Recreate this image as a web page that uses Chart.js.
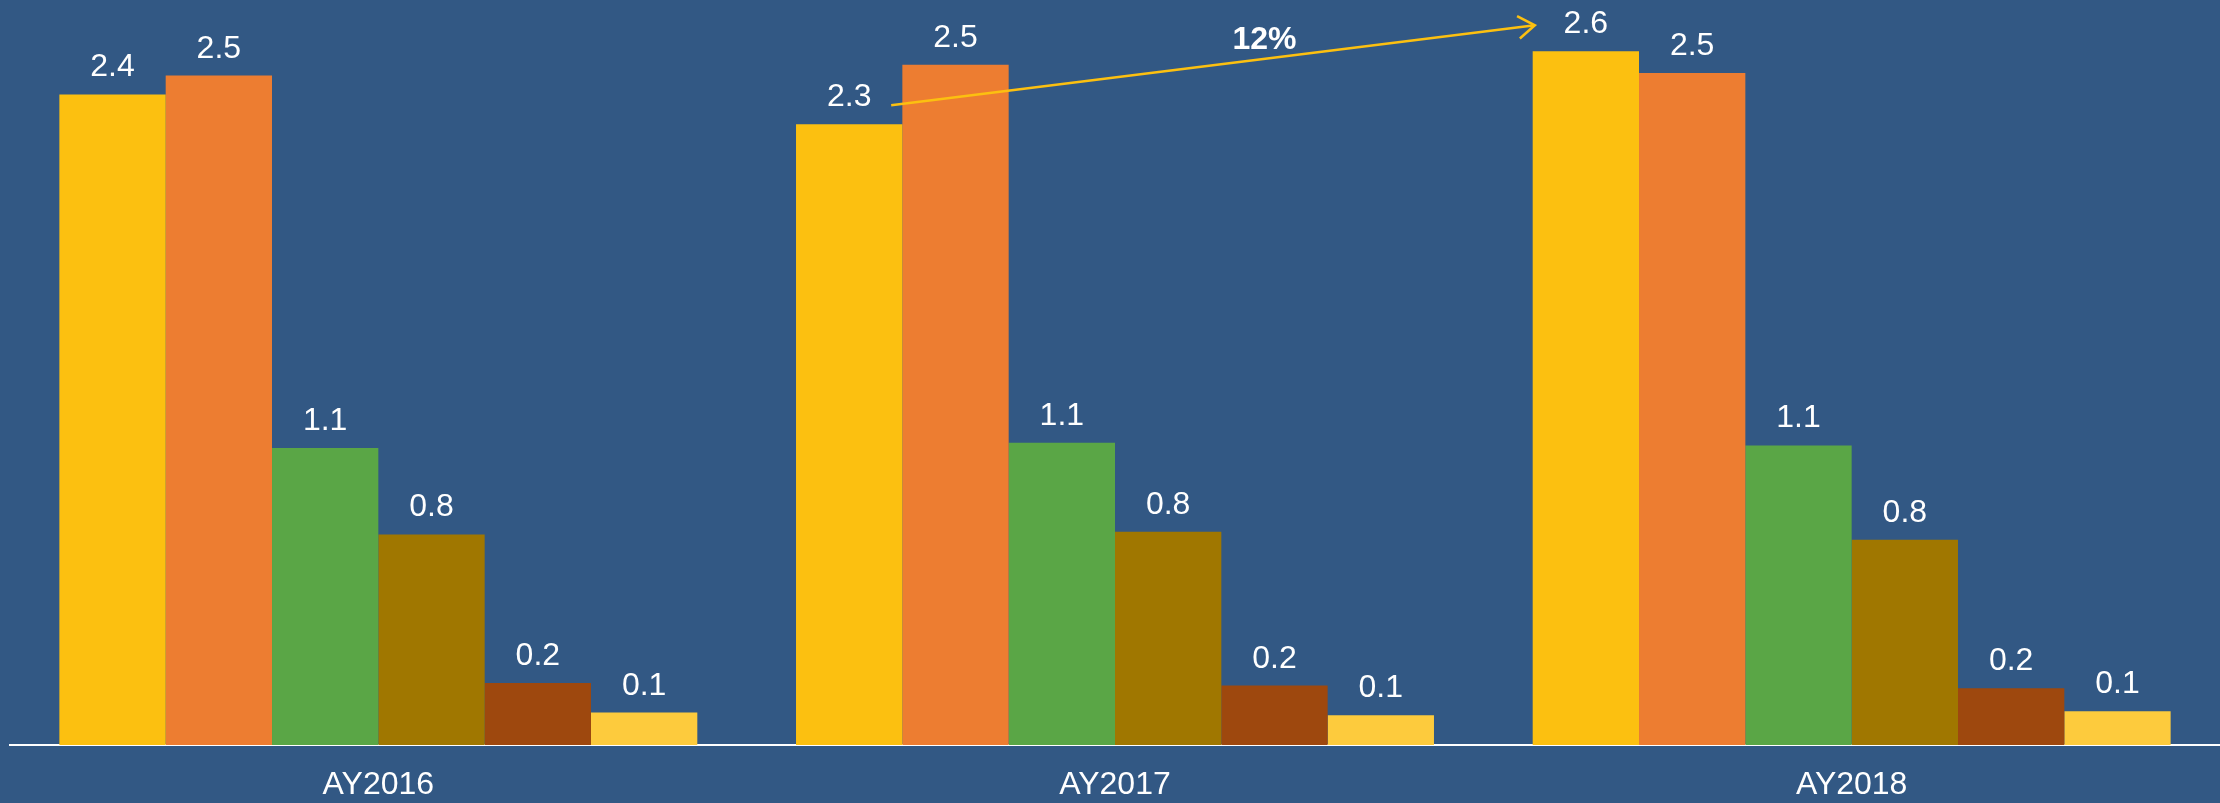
<!DOCTYPE html>
<html>
<head>
<meta charset="utf-8">
<script src="https://cdn.jsdelivr.net/npm/chart.js@4.4.0/dist/chart.umd.min.js"></script>
<style>
  html, body { margin: 0; padding: 0; background: #325884; }
  #wrap { width: 2220px; height: 803px; position: relative; }
</style>
</head>
<body>
<div id="wrap"><canvas id="chartAY"></canvas></div>
<script>
var years = ['AY2016', 'AY2017', 'AY2018'];

// six series, values
var serie1 = [2.41, 2.30, 2.57];
var serie2 = [2.48, 2.52, 2.49];
var serie3 = [1.10, 1.12, 1.11];
var serie4 = [0.78, 0.79, 0.76];
var serie5 = [0.23, 0.22, 0.21];
var serie6 = [0.12, 0.11, 0.125];

var colors = ['#FCC010', '#ED7D31', '#5AA646', '#A07700', '#9E480E', '#FDCB3D'];
var growthText = '12%';

var fontFam = '"Liberation Sans", Arial, sans-serif';

// value labels above each bar
var valueLabels = {
    id: 'valueLabels',
    afterDatasetsDraw: function (chart) {
        var c = chart.ctx;
        c.save();
        c.fillStyle = '#ffffff';
        c.font = '32px ' + fontFam;
        c.textAlign = 'center';
        c.textBaseline = 'alphabetic';
        chart.data.datasets.forEach(function (ds, i) {
            chart.getDatasetMeta(i).data.forEach(function (bar, j) {
                c.fillText(ds.data[j].toFixed(1), bar.x, bar.y - 18);
            });
        });
        c.restore();
    }
};

// growth arrow between AY2017 and AY2018 first series
var growthArrow = {
    id: 'growthArrow',
    afterDatasetsDraw: function (chart) {
        var meta = chart.getDatasetMeta(0).data;
        var a = meta[1], b = meta[2];
        var x1 = a.x + 42, y1 = a.y - 19;
        var x2 = b.x - 51, y2 = b.y - 26;
        var c = chart.ctx;
        c.save();
        c.strokeStyle = '#FCC010';
        c.lineWidth = 2.5;
        c.beginPath();
        c.moveTo(x1, y1);
        c.lineTo(x2, y2);
        c.stroke();
        var ang = Math.atan2(y2 - y1, x2 - x1);
        var len = 20, spread = 0.6;
        c.beginPath();
        c.moveTo(x2 - len * Math.cos(ang - spread), y2 - len * Math.sin(ang - spread));
        c.lineTo(x2, y2);
        c.lineTo(x2 - len * Math.cos(ang + spread), y2 - len * Math.sin(ang + spread));
        c.stroke();

        var t = 0.58;
        c.fillStyle = '#ffffff';
        c.font = 'bold 32px ' + fontFam;
        c.textAlign = 'center';
        c.textBaseline = 'alphabetic';
        c.fillText(growthText, x1 + t * (x2 - x1), y1 + t * (y2 - y1) - 10);
        c.restore();
    }
};

var series = [serie1, serie2, serie3, serie4, serie5, serie6];

var ctx = document.getElementById('chartAY');
var myChart = new Chart(ctx, {
    type: 'bar',
    data: {
        labels: years,
        datasets: series.map(function (s, i) {
            return {
                data: s,
                backgroundColor: colors[i],
                borderWidth: 0,
                barPercentage: 1,
                categoryPercentage: 0.866
            };
        })
    },
    options: {
        responsive: true,
        maintainAspectRatio: false,
        animation: false,
        layout: { padding: { left: 10, right: 0, top: 0, bottom: 0 } },
        plugins: {
            legend: { display: false },
            tooltip: { enabled: false }
        },
        scales: {
            x: {
                grid: { display: false, drawTicks: false },
                border: { display: true, color: '#ffffff', width: 2 },
                ticks: {
                    color: '#ffffff',
                    font: { family: fontFam, size: 32 },
                    padding: 21
                },
                afterFit: function (scale) { scale.height = 58; }
            },
            y: {
                display: false,
                min: 0,
                max: 2.76
            }
        }
    },
    plugins: [valueLabels, growthArrow]
});
</script>
</body>
</html>
